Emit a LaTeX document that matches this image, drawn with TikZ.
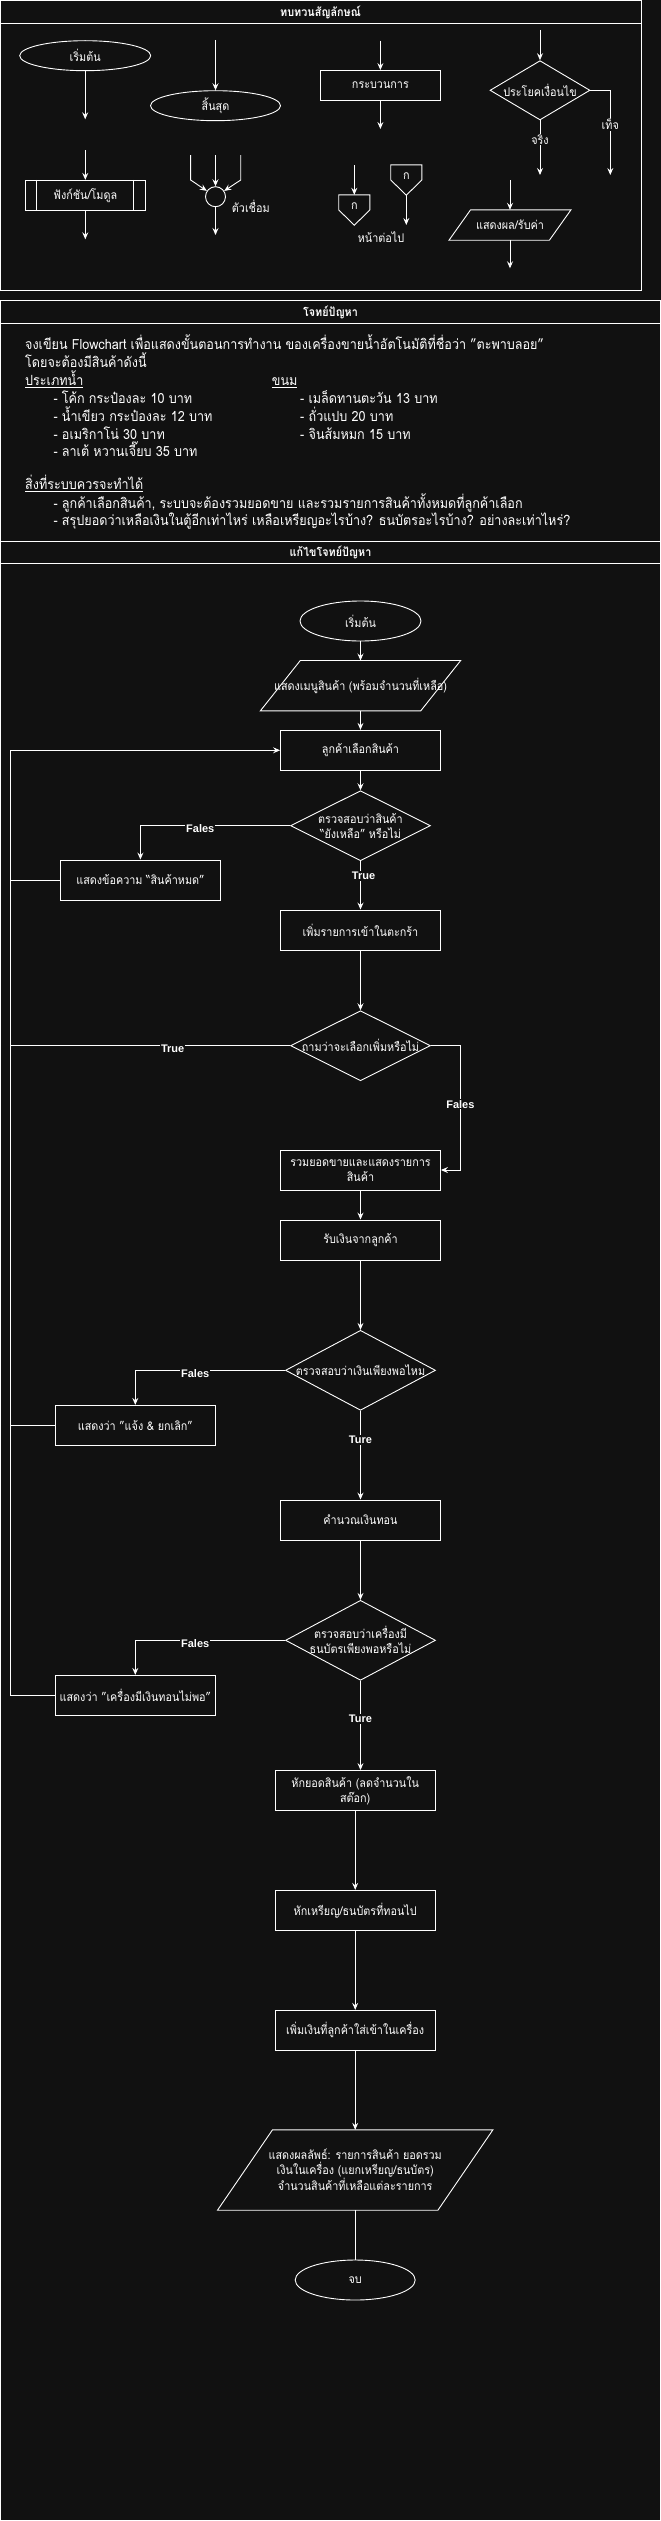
\documentclass[tikz,border=0pt]{standalone}
\usepackage{fontspec}
\setmainfont{Loma}[Script=Thai, FakeStretch=0.9]
\newfontfamily\lbl{Liberation Sans}
\usetikzlibrary{shapes.geometric,arrows.meta}
\definecolor{bgc}{HTML}{111111}
\tikzset{
  ln/.style={draw=white, line width=0.9pt},
  arr/.style={ln, -{Stealth[length=7pt,width=6pt,inset=2.5pt]}},
  tx/.style={text=white, font=\fontsize{12}{15}\selectfont, align=center, inner sep=0pt},
  shp/.style={draw=white, line width=0.9pt, inner sep=0pt},
  proc/.style={shp, rectangle, minimum width=160pt, minimum height=40pt},
  term/.style={shp, ellipse, minimum width=121pt, minimum height=40pt},
  dia/.style={shp, diamond},
  ghost/.style={inner sep=0pt, rectangle},
  frame/.style={draw=white, line width=1pt},
  lab/.style={text=white, fill=bgc, font=\lbl\bfseries\fontsize{11}{12}\selectfont, inner sep=1pt},
  tlab/.style={text=white, fill=bgc, font=\fontsize{12}{14}\selectfont, inner sep=1pt},
  ttl/.style={text=white, font=\bfseries\fontsize{12}{14}\selectfont, inner sep=0pt},
  para/.style={text=white, font=\fontsize{14}{17}\selectfont, anchor=base west, inner sep=0pt},
}
\begin{document}
\begin{tikzpicture}[x=1pt,y=-1pt]
\fill[bgc] (0,0) rectangle (661,2521);
\useasboundingbox (0,0) rectangle (661,2521);

% ---------- panel frames ----------
\draw[frame] (0.5,0.5) rectangle (641,290);
\draw[frame] (0.5,23.3) -- (641,23.3);
\node[ttl] (t1) at (320.5,12) {ทบทวนสัญลักษณ์};
\draw[frame] (0.5,300) rectangle (660.5,541);
\draw[frame] (0.5,323.3) -- (660.5,323.3);
\node[ttl] (t2) at (330.5,312) {โจทย์ปัญหา};
\draw[frame] (0.5,541) rectangle (660.5,2520.5);
\draw[frame] (0.5,563.3) -- (660.5,563.3);
\node[ttl] (t3) at (330.5,552.5) {แก้ไขโจทย์ปัญหา};

% ---------- panel 1: symbols ----------
\node[term, minimum width=131pt, minimum height=30pt] (ps) at (85.2,55.7) {};
\node[tx] (pst) at (ps) {เริ่มต้น};
\coordinate (ps1) at (85.2,119.3);
\draw[arr] (ps) -- (ps1);

\coordinate (pf0) at (85.3,150);
\node[proc, minimum width=120pt, minimum height=30.4pt] (pf) at (85.3,195.5) {};
\node[tx] (pft) at (pf) {ฟังก์ชัน/โมดูล};
\draw[ln] ([xshift=12pt]pf.north west) -- ([xshift=12pt]pf.south west);
\draw[ln] ([xshift=-12pt]pf.north east) -- ([xshift=-12pt]pf.south east);
\coordinate (pf1) at (85.3,239.3);
\draw[arr] (pf0) -- (pf);
\draw[arr] (pf) -- (pf1);

\coordinate (pe0) at (215.5,40);
\node[term, minimum width=130pt, minimum height=30pt] (pe) at (215.5,105.7) {};
\node[tx] (pet) at (pe) {สิ้นสุด};
\draw[arr] (pe0) -- (pe);

\node[shp, circle, minimum size=20pt] (pc) at (215.5,196.7) {};
\coordinate (pcl) at (190.6,155);
\coordinate (pclb) at (190.6,180);
\coordinate (pcm) at (215.5,155);
\coordinate (pcr) at (240.7,155);
\coordinate (pcrb) at (240.7,180);
\coordinate (pco) at (215.5,235);
\draw[arr] (pcl) -- (pclb) -- (pc);
\draw[arr] (pcm) -- (pc);
\draw[arr] (pcr) -- (pcrb) -- (pc);
\draw[arr] (pc) -- (pco);
\node[tx] (pct) at (250.8,206.7) {ตัวเชื่อม};

\coordinate (pp0) at (380.4,40.7);
\node[proc, minimum width=120pt, minimum height=30pt] (pp) at (380.4,85.5) {};
\node[tx] (ppt) at (pp) {กระบวนการ};
\coordinate (pp1) at (380.4,129);
\draw[arr] (pp0) -- (pp);
\draw[arr] (pp) -- (pp1);

\node[ghost, minimum width=30.7pt, minimum height=30pt] (po1) at (354.3,210) {};
\draw[ln] (po1.north west) -- (po1.north east) -- (po1.east) -- (po1.south) -- (po1.west) -- cycle;
\node[tx] (po1t) at (354.3,206.5) {ก};
\coordinate (po1in) at (354.3,165);
\draw[arr] (po1in) -- (po1);
\node[ghost, minimum width=30.7pt, minimum height=30pt] (po2) at (406.3,180) {};
\draw[ln] (po2.north west) -- (po2.north east) -- (po2.east) -- (po2.south) -- (po2.west) -- cycle;
\node[tx] (po2t) at (406.3,176.5) {ก};
\coordinate (po2out) at (406.3,225);
\draw[arr] (po2.south) -- (po2out);
\node[tx] (pot) at (381,237.3) {หน้าต่อไป};

\coordinate (pd0) at (540,30);
\node[dia, minimum width=100pt, minimum height=59.3pt] (pd) at (540,90.3) {};
\node[tx] (pdt) at (pd) {ประโยคเงื่อนไข};
\coordinate (pdt1) at (540,175);
\coordinate (pdf0) at (610.3,90.3);
\coordinate (pdf1) at (610.3,175);
\draw[arr] (pd0) -- (pd);
\draw[arr] (pd.south) -- (pdt1) node[tlab, pos=0.35] (pdl1) {จริง};
\draw[arr] (pd.east) -- (pdf0) -- (pdf1) node[tlab, pos=0.4] (pdl2) {เท็จ};

\coordinate (pio0) at (510,180);
\node[ghost, minimum width=100pt, minimum height=30pt] (pio) at (510,225) {};
\draw[ln] ([xshift=-10.8pt]pio.south west) -- ([xshift=10.8pt]pio.north west) -- ([xshift=10.8pt]pio.north east) -- ([xshift=-10.8pt]pio.south east) -- cycle;
\node[tx] (piot) at (pio) {แสดงผล/รับค่า};
\coordinate (pio1) at (510,268.3);
\draw[arr] (pio0) -- (pio);
\draw[arr] (pio) -- (pio1);

% ---------- panel 2: problem ----------
\node[para] (q1) at (25,349.7) {จงเขียน Flowchart เพื่อแสดงขั้นตอนการทำงาน ของเครื่องขายน้ำอัตโนมัติที่ชื่อว่า "ตะพาบลอย"};
\node[para] (q2) at (25,367.3) {โดยจะต้องมีสินค้าดังนี้};
\node[para] (q3) at (25,385.7) {\underline{ประเภทน้ำ}};
\node[para] (q3b) at (271.7,385.7) {\underline{ขนม}};
\node[para] (q4) at (53.3,403.3) {- โค้ก กระป๋องละ 10 บาท};
\node[para] (q5) at (53.3,421.3) {- น้ำเขียว กระป๋องละ 12 บาท};
\node[para] (q6) at (53.3,439) {- อเมริกาโน่ 30 บาท};
\node[para] (q7) at (53.3,456.3) {- ลาเต้ หวานเจี๊ยบ 35 บาท};
\node[para] (q4b) at (300,403.3) {- เมล็ดทานตะวัน 13 บาท};
\node[para] (q5b) at (300,421.3) {- ถั่วแปบ 20 บาท};
\node[para] (q6b) at (300,439) {- จินส้มหมก 15 บาท};
\node[para] (q9) at (25,489.7) {\underline{สิ่งที่ระบบควรจะทำได้}};
\node[para] (q10) at (53.3,508) {- ลูกค้าเลือกสินค้า, ระบบจะต้องรวมยอดขาย และรวมรายการสินค้าทั้งหมดที่ลูกค้าเลือก};
\node[para] (q11) at (53.3,525.7) {- สรุปยอดว่าเหลือเงินในตู้อีกเท่าไหร่ เหลือเหรียญอะไรบ้าง? ธนบัตรอะไรบ้าง? อย่างละเท่าไหร่?};

% ---------- panel 3: flowchart ----------
\node[term] (st) at (360.5,621) {};
\node[tx] (stt) at (st) {เริ่มต้น};

\node[ghost, minimum width=160pt, minimum height=50pt] (menu) at (360.5,685.7) {};
\draw[ln] ([xshift=-20pt]menu.south west) -- ([xshift=20pt]menu.north west) -- ([xshift=20pt]menu.north east) -- ([xshift=-20pt]menu.south east) -- cycle;
\node[tx] (menut) at (menu) {แสดงเมนูสินค้า (พร้อมจำนวนที่เหลือ)};

\node[proc] (sel) at (360.5,750.3) {};
\node[tx] (selt) at (sel) {ลูกค้าเลือกสินค้า};

\node[dia, minimum width=140pt, minimum height=70pt] (d1) at (360.5,825.7) {};
\node[tx] (d1t) at (d1) {ตรวจสอบว่าสินค้า\\“ยังเหลือ” หรือไม่};

\node[proc] (out) at (140.4,880) {};
\node[tx] (outt) at (out) {แสดงข้อความ “สินค้าหมด”};

\node[proc] (add) at (360.5,930) {};
\node[tx] (addt) at (add) {เพิ่มรายการเข้าในตะกร้า};

\node[dia, minimum width=140pt, minimum height=70pt] (d2) at (360.5,1045.7) {};
\node[tx] (d2t) at (d2) {ถามว่าจะเลือกเพิ่มหรือไม่};

\node[proc] (sum) at (360.5,1170) {};
\node[tx] (sumt) at (sum) {รวมยอดขายและแสดงรายการ\\สินค้า};

\node[proc] (pay) at (360.5,1240) {};
\node[tx] (payt) at (pay) {รับเงินจากลูกค้า};

\node[dia, minimum width=150pt, minimum height=80pt] (d3) at (360.5,1370.3) {};
\node[tx] (d3t) at (d3) {ตรวจสอบว่าเงินเพียงพอไหม};

\node[proc] (cancel) at (135.3,1425.3) {};
\node[tx] (cancelt) at (cancel) {แสดงว่า "แจ้ง \& ยกเลิก"};

\node[proc] (calc) at (360.5,1520) {};
\node[tx] (calct) at (calc) {คำนวณเงินทอน};

\node[dia, minimum width=150pt, minimum height=80pt] (d4) at (360.5,1640.3) {};
\node[tx] (d4t) at (d4) {ตรวจสอบว่าเครื่องมี\\ธนบัตรเพียงพอหรือไม่};

\node[proc] (noch) at (135.3,1695.3) {};
\node[tx] (nocht) at (noch) {แสดงว่า "เครื่องมีเงินทอนไม่พอ"};

\node[proc] (cut) at (355.2,1790.5) {};
\node[tx] (cutt) at (cut) {หักยอดสินค้า (ลดจำนวนใน\\สต๊อก)};

\node[proc] (ded) at (355.2,1910.3) {};
\node[tx] (dedt) at (ded) {หักเหรียญ/ธนบัตรที่ทอนไป};

\node[proc] (addm) at (355.2,2030.3) {};
\node[tx] (addmt) at (addm) {เพิ่มเงินที่ลูกค้าใส่เข้าในเครื่อง};

\node[ghost, minimum width=220pt, minimum height=80pt] (res) at (355.2,2170) {};
\draw[ln] ([xshift=-27.5pt]res.south west) -- ([xshift=27.5pt]res.north west) -- ([xshift=27.5pt]res.north east) -- ([xshift=-27.5pt]res.south east) -- cycle;
\node[tx] (rest) at (res) {แสดงผลลัพธ์: รายการสินค้า ยอดรวม\\เงินในเครื่อง (แยกเหรียญ/ธนบัตร)\\ จำนวนสินค้าที่เหลือแต่ละรายการ};

\node[term, minimum width=120pt] (en) at (355.2,2280) {};
\node[tx] (ent) at (en) {จบ};

% connectors
\coordinate (loop) at (10.5,0);
\coordinate (d2r) at (460.4,0);
\draw[arr] (st) -- (menu);
\draw[arr] (menu) -- (sel);
\draw[arr] (sel) -- (d1);
\draw[arr] (d1.west) -| (out.north) node[lab, pos=0.3, yshift=-3pt] (l1) {Fales};
\draw[arr] (d1.south) -- (add.north) node[lab, pos=0.3, xshift=3pt] (l2) {True};
\draw[arr] (add) -- (d2);
\draw[arr] (noch.west) -- (noch.west -| loop) -- (sel.west -| loop) -- (sel.west);
\draw[ln] (out.west) -- (out.west -| loop);
\draw[ln] (cancel.west) -- (cancel.west -| loop);
\draw[ln] (d2.west) -- (d2.west -| loop) node[lab, pos=0.42, yshift=-3pt] (l3) {True};
\draw[arr] (d2.east) -- (d2.east -| d2r) -- (sum.east -| d2r) node[lab, pos=0.47] (l4) {Fales} -- (sum.east);
\draw[arr] (sum) -- (pay);
\draw[arr] (pay) -- (d3);
\draw[arr] (d3.west) -| (cancel.north) node[lab, pos=0.3, yshift=-3pt] (l5) {Fales};
\draw[arr] (d3.south) -- (calc.north) node[lab, pos=0.33] (l6) {Ture};
\draw[arr] (calc) -- (d4);
\draw[arr] (d4.west) -| (noch.north) node[lab, pos=0.3, yshift=-3pt] (l7) {Fales};
\draw[arr] (d4.south) -- (d4.south |- cut.north) node[lab, pos=0.43] (l8) {Ture};
\draw[arr] (cut) -- (ded);
\draw[arr] (ded) -- (addm);
\draw[arr] (addm) -- (res);
\draw[ln] (res) -- (en);
\end{tikzpicture}
\end{document}
